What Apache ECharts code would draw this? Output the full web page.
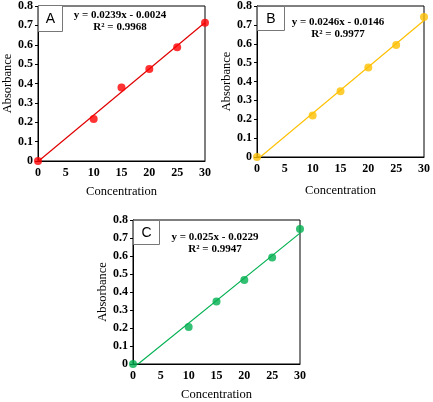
<!DOCTYPE html>
<html>
<head>
<meta charset="utf-8">
<script src="https://cdn.jsdelivr.net/npm/echarts@6/dist/echarts.min.js"></script>
<style>
  html, body { margin: 0; padding: 0; background: #fff; }
  #chart { width: 433px; height: 402px; }
</style>
</head>
<body>
<div id="chart"></div>
<script>
const concentration = [0, 10, 15, 20, 25, 30]
const absA = [0, 0.217, 0.38, 0.475, 0.587, 0.714]
const absB = [0, 0.22, 0.348, 0.474, 0.594, 0.742]
const absC = [0, 0.205, 0.347, 0.467, 0.591, 0.75]
const slopes = [0.0239, 0.0246, 0.025]
const intercepts = [-0.0024, -0.0146, -0.0229]
const rSquared = ['0.9968', '0.9977', '0.9947']
const panelLabels = ['A', 'B', 'C']
const pointColors = ['#ff0000', '#ffc000', '#00b050']
const lineColors = ['#e00000', '#ffc000', '#00b050']

const serif = '"Liberation Serif", "DejaVu Serif", serif'
const grids = [
  { left: 38, top: 5, width: 167, height: 156 },
  { left: 257, top: 6, width: 170, height: 151 },
  { left: 133, top: 220, width: 167, height: 147 },
]
const series = [absA, absB, absC]

const option = {
  animation: false,
  grid: grids.map(g => Object.assign({ show: true, borderColor: '#000', borderWidth: 1 }, g)),
  xAxis: grids.map((g, i) => ({
    gridIndex: i,
    type: 'value',
    min: 0, max: 30, interval: 5,
    name: 'Concentration',
    nameLocation: 'middle',
    nameGap: i === 1 ? 27 : 24,
    nameTextStyle: { fontFamily: serif, fontSize: 12.5, color: '#000' },
    axisLine: { lineStyle: { color: '#000' } },
    axisTick: { show: false },
    axisLabel: { fontFamily: serif, fontSize: 12, fontWeight: 'bold', color: '#000', margin: 6 },
    splitLine: { show: false },
  })),
  yAxis: grids.map((g, i) => ({
    gridIndex: i,
    type: 'value',
    min: 0, max: 0.8, interval: 0.1,
    name: 'Absorbance',
    nameLocation: 'middle',
    nameGap: 23,
    nameTextStyle: { fontFamily: serif, fontSize: 12.5, color: '#000' },
    axisLine: { show: true, lineStyle: { color: '#000' } },
    axisTick: { show: true, length: 3, lineStyle: { color: '#000' } },
    axisLabel: {
      fontFamily: serif, fontSize: 12, fontWeight: 'bold', color: '#000', margin: 5,
      formatter: v => String(Math.round(v * 10) / 10),
    },
    splitLine: { show: false },
  })),
  series: [],
  graphic: [],
}

series.forEach((vals, i) => {
  const m = slopes[i], b = intercepts[i]
  option.series.push({
    type: 'line',
    xAxisIndex: i, yAxisIndex: i,
    data: [[0, b], [30, m * 30 + b]],
    symbol: 'none',
    lineStyle: { color: lineColors[i], width: 1.2 },
    clip: true,
    z: 2,
  })
  option.series.push({
    type: 'scatter',
    xAxisIndex: i, yAxisIndex: i,
    data: concentration.map((c, k) => [c, vals[k]]),
    symbolSize: 8,
    itemStyle: { color: pointColors[i] },
    clip: false,
    z: 3,
  })
})

const boxes = [
  { x: 38, y: 5, w: 24, h: 26, ex: 120, ey: 21 },
  { x: 257, y: 6, w: 27, h: 24, ex: 338, ey: 28 },
  { x: 133, y: 220, w: 26, h: 24, ex: 215, ey: 243 },
]
boxes.forEach((bx, i) => {
  option.graphic.push({
    type: 'rect',
    shape: { x: bx.x + 0.5, y: bx.y + 0.5, width: bx.w, height: bx.h },
    style: { fill: '#fff', stroke: '#777', lineWidth: 1 },
    z: 10,
  })
  option.graphic.push({
    type: 'text',
    x: bx.x + bx.w / 2 + 0.5, y: bx.y + bx.h / 2 + 1,
    style: {
      text: panelLabels[i], fill: '#000', font: '14px "Liberation Sans", Arial, sans-serif',
      align: 'center', verticalAlign: 'middle',
    },
    z: 11,
  })
  const sign = intercepts[i] < 0 ? '- ' : '+ '
  option.graphic.push({
    type: 'text',
    x: bx.ex, y: bx.ey,
    style: {
      text: 'y = ' + slopes[i] + 'x ' + sign + Math.abs(intercepts[i]) + '\nR² = ' + rSquared[i],
      fill: '#000', font: 'bold 11px ' + serif,
      align: 'center', verticalAlign: 'middle', lineHeight: 12,
    },
    z: 11,
  })
})

const chart = echarts.init(document.getElementById('chart'), null, { renderer: 'canvas' })
chart.setOption(option)
</script>
</body>
</html>
